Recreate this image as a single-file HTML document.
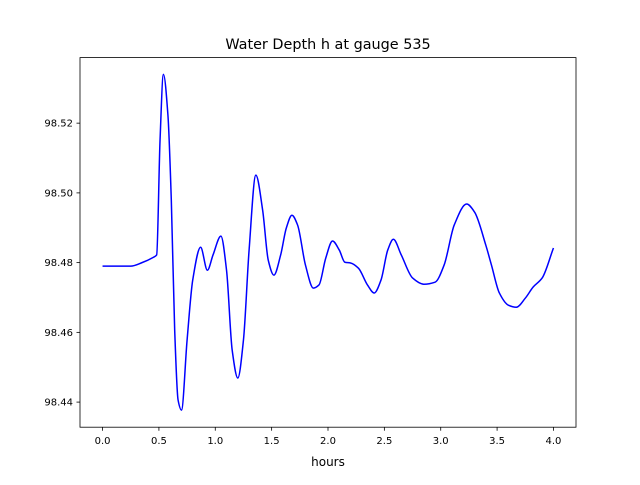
<!DOCTYPE html>
<html><head><meta charset="utf-8"><style>
body{margin:0;background:#fff;}
svg text{font-family:"DejaVu Sans","Liberation Sans",sans-serif;}
</style></head><body>
<svg id="chart" width="640" height="480" xmlns="http://www.w3.org/2000/svg">
<rect width="640" height="480" fill="#fff"/>
<text x="328" y="49" font-size="14.4" text-anchor="middle">Water Depth h at gauge 535</text>
<g id="plot"></g>
<rect x="80" y="57.6" width="496" height="369.6" fill="none" stroke="#000" stroke-width="0.8"/>
<text x="328" y="466" font-size="12" text-anchor="middle">hours</text>
</svg>
<script>
const times=[0,0.25,0.35,0.45,0.48,0.51,0.54,0.58,0.61,0.64,0.67,0.70,0.75,0.80,0.87,0.93,0.98,1.05,1.10,1.15,1.20,1.25,1.30,1.36,1.42,1.47,1.52,1.58,1.63,1.68,1.73,1.80,1.87,1.92,1.98,2.04,2.10,2.15,2.20,2.27,2.35,2.41,2.47,2.53,2.58,2.65,2.75,2.85,2.95,3.03,3.12,3.23,3.30,3.40,3.45,3.52,3.60,3.67,3.75,3.82,3.90,4.00];
const depth=[98.4790,98.4790,98.4800,98.4815,98.4822,98.5151,98.5340,98.5223,98.4979,98.4606,98.4406,98.4377,98.4578,98.4750,98.4844,98.4778,98.4822,98.4876,98.4778,98.4549,98.4469,98.4578,98.4836,98.5051,98.4951,98.4807,98.4764,98.4822,98.4899,98.4936,98.4908,98.4793,98.4727,98.4736,98.4813,98.4862,98.4836,98.4801,98.4799,98.4784,98.4736,98.4713,98.4750,98.4836,98.4867,98.4822,98.4756,98.4738,98.4744,98.4793,98.4908,98.4968,98.4945,98.4850,98.4793,98.4713,98.4678,98.4672,98.4698,98.4730,98.4756,98.4842];
const xTicks=[0,0.5,1,1.5,2,2.5,3,3.5,4];
const xTickLabels=["0.0","0.5","1.0","1.5","2.0","2.5","3.0","3.5","4.0"];
const yTicks=[98.44,98.46,98.48,98.50,98.52];
const yTickLabels=["98.44","98.46","98.48","98.50","98.52"];
const L=80,R=576,T=57.6,B=427.2,x0=-0.2,x1=4.2,y0=98.4328,y1=98.5388;
const sx=v=>L+(v-x0)/(x1-x0)*(R-L);
const sy=v=>B-(v-y0)/(y1-y0)*(B-T);
const NS="http://www.w3.org/2000/svg";
const g=document.getElementById('plot');
function mk(tag,attrs){const e=document.createElementNS(NS,tag);for(const k in attrs)e.setAttribute(k,attrs[k]);g.appendChild(e);return e;}
xTicks.forEach((t,i)=>{
 const l=mk('line',{x1:sx(t),x2:sx(t),y1:B,y2:B+3.5,stroke:'#000','stroke-width':0.8});
 
 
 const tx=mk('text',{x:sx(t),y:B+17,'font-size':10,'text-anchor':'middle'});
 tx.textContent=xTickLabels[i];
 
 
});
yTicks.forEach((t,i)=>{
 const l=mk('line',{x1:L-3.5,x2:L,y1:sy(t),y2:sy(t),stroke:'#000','stroke-width':0.8});
 
 
 const tx=mk('text',{x:L-7,y:sy(t)+3.5,'font-size':10,'text-anchor':'end'});
 tx.textContent=yTickLabels[i];
 
 
});
// monotone cubic (Fritsch-Carlson) to avoid overshoot
const X=times.map(sx),Y=depth.map(sy),n=X.length;
const dl=[],m=new Array(n);
for(let i=0;i<n-1;i++)dl.push((Y[i+1]-Y[i])/(X[i+1]-X[i]));
m[0]=dl[0];m[n-1]=dl[n-2];
for(let i=1;i<n-1;i++){
 if(dl[i-1]*dl[i]<=0)m[i]=0;
 else{const h0=X[i]-X[i-1],h1=X[i+1]-X[i],w1=2*h1+h0,w2=h1+2*h0;m[i]=(w1+w2)/(w1/dl[i-1]+w2/dl[i]);}
}
let d='M'+X[0]+','+Y[0];
for(let i=0;i<n-1;i++){
 const h=(X[i+1]-X[i])/3;
 d+=`C${X[i]+h},${Y[i]+m[i]*h} ${X[i+1]-h},${Y[i+1]-m[i+1]*h} ${X[i+1]},${Y[i+1]}`;
}
const path=mk('path',{d:d,fill:'none',stroke:'#0000ff','stroke-width':1.5});


</script>
</body></html>
